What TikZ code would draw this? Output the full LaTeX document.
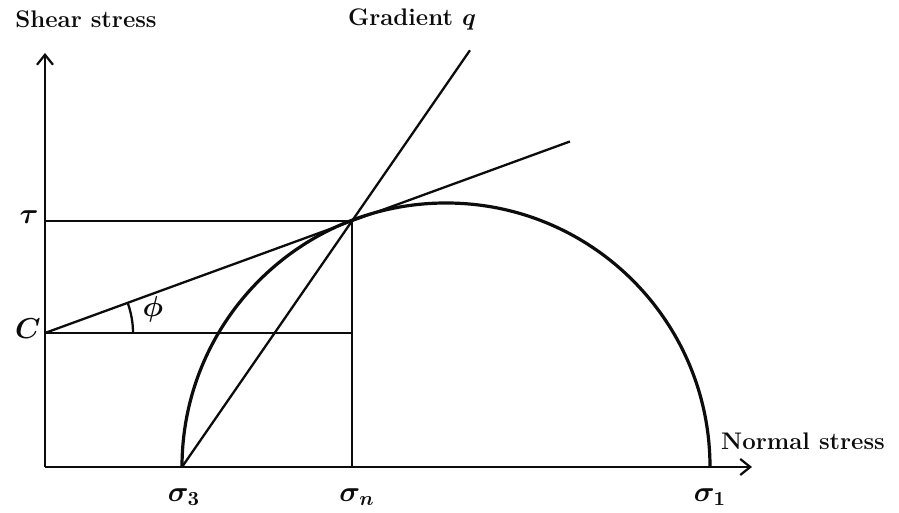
\documentclass[tikz,border=0pt]{standalone}
\usepackage{amsmath,bm}
\usetikzlibrary{arrows.meta,calc}
\definecolor{inkclr}{RGB}{12,12,12}
\tikzset{
  axis/.style={-{Straight Barb[length=5pt,width=8pt]},line width=1.1pt,color=inkclr},
  ln/.style={line width=1.15pt,color=inkclr},
  mohr/.style={line width=1.6pt,color=inkclr},
  lbl/.style={font=\fontsize{12}{14}\selectfont\bfseries\boldmath,text=inkclr,inner sep=1pt},
  mlbl/.style={font=\fontsize{14}{16}\selectfont\boldmath,text=inkclr,inner sep=1pt},
}

\begin{document}
\begin{tikzpicture}[x=0.5pt,y=0.5pt]
  \useasboundingbox (0,0) rectangle (899,513);
  % points
  \coordinate (O)    at (45,46);
  \coordinate (ytop) at (45,460);
  \coordinate (xend) at (752,46);
  \coordinate (s3)   at (182,46);
  \coordinate (s1)   at (710,46);
  \coordinate (P)    at (352,292);
  \coordinate (sn)   at (P |- O);
  \coordinate (C)    at (45,180);
  \coordinate (T)    at (O |- P);
  \coordinate (Ch)   at (sn |- C);
  \coordinate (tend) at ($(C)!1.71!(P)$);
  \coordinate (qend) at ($(s3)!1.694!(P)$);

  % axes
  \draw[axis] (O) -- (ytop);
  \draw[axis] (O) -- (xend);

  % Mohr circle
  \draw[mohr] (s1) arc[start angle=0,end angle=180,radius=264];

  % lines
  \draw[ln] (T) -- (P);
  \draw[ln] (C) -- (Ch);
  \draw[ln] (P) -- (sn);
  \draw[ln] (C) -- (tend);
  \draw[ln] (s3) -- (qend);
  \draw[ln] ($(C)+(88,0)$) arc[start angle=0,end angle=20.4,radius=88];

  % labels
  \node[lbl]  (shear) at (86,494)  {Shear stress};
  \node[lbl]  (grad)  at (412,494) {Gradient $q$};
  \node[lbl]  (norm)  at (803,72)  {Normal stress};
  \node[mlbl] (tau)   at (29,296)  {$\tau$};
  \node[mlbl] (cc)    at (28,184)  {$C$};
  \node[mlbl] (phi)   at (153,204) {$\phi$};
  \node[mlbl] (ls3)   at (184,16)  {$\sigma_3$};
  \node[mlbl] (lsn)   at (357,16)  {$\sigma_n$};
  \node[mlbl] (ls1)   at (710,16)  {$\sigma_1$};
\end{tikzpicture}
\end{document}
